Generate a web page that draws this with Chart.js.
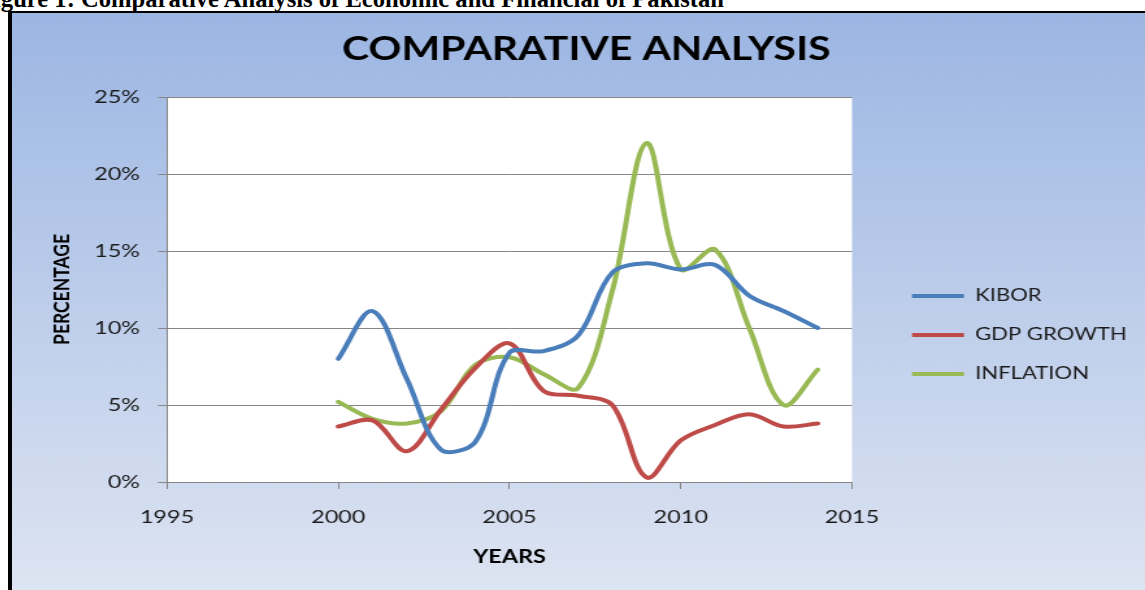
<!DOCTYPE html>
<html>
<head>
<meta charset="utf-8">
<title>Comparative Analysis</title>
<script src="https://cdn.jsdelivr.net/npm/chart.js@4.4.1/dist/chart.umd.min.js"></script>
<style>
    body { margin: 0; width: 1145px; height: 590px; overflow: hidden; background: #fff; position: relative; }
    #caption { position: absolute; left: -21px; top: -13px; z-index: 2; font: bold 24.6px/24.6px "Liberation Serif", "Times New Roman", serif; white-space: nowrap; color: #000; }
    #frame { position: absolute; left: 8px; top: 11px; width: 1133px; height: 577px; border-left: 4px solid #000; border-top: 2px solid #000; }
    #chart { position: absolute; left: 0; top: 0; }
</style>
</head>
<body>
<div id="caption">Figure 1: Comparative Analysis of Economic and Financial of Pakistan</div>
<div id="frame"><canvas id="chart"></canvas></div>
<script>
// Chart data (percent)
const years = [2000, 2001, 2002, 2003, 2004, 2005, 2006, 2007, 2008, 2009, 2010, 2011, 2012, 2013, 2014];
const kibor = [8.0, 11.1, 6.7, 2.1, 2.6, 8.4, 8.5, 9.5, 13.6, 14.2, 13.8, 14.1, 12.1, 11.1, 10.0];
const gdpGrowth = [3.6, 4.0, 2.0, 4.7, 7.4, 9.0, 5.9, 5.6, 5.0, 0.3, 2.7, 3.7, 4.4, 3.6, 3.8];
const inflation = [5.2, 4.1, 3.8, 4.6, 7.6, 8.1, 7.0, 6.1, 12.4, 22.0, 13.8, 15.1, 10.0, 5.0, 7.3];
const seriesNames = ['KIBOR', 'GDP GROWTH', 'INFLATION'];
const xTicks = [1995, 2000, 2005, 2010, 2015];
const yTicks = [0, 5, 10, 15, 20, 25];

// The original picture is stretched sideways, so draw narrow and stretch with css
const BOX_W = 1133, BOX_H = 577, OX = 12, OY = 13;
const CW = Math.round(BOX_W / 1.3);
const SX = BOX_W / CW;
const cx = realX => (realX - OX) / SX;
const cy = realY => realY - OY;

const PLOT_LEFT = cx(167), PLOT_RIGHT = cx(852);
const PLOT_TOP = cy(97), PLOT_BOTTOM = cy(482);
const PAD_LEFT = 12;
const LEGEND_PAD = 22;
const LEGEND_FONT = 17;

const canvas = document.getElementById('chart');
canvas.width = CW;
canvas.height = BOX_H;
canvas.style.width = BOX_W + 'px';
canvas.style.height = BOX_H + 'px';

Chart.defaults.font.family = 'Lato, "Open Sans", sans-serif';

const colors = ['#4a7ebb', '#be4b48', '#98b954'];

function toPoints(values) {
    return years.map((yr, i) => ({ x: yr, y: values[i] }));
}

// background gradient + white plot area
const backgroundPlugin = {
    id: 'background',
    beforeDraw(chart) {
        const { ctx, chartArea, width, height } = chart;
        const grad = ctx.createLinearGradient(0, 0, 0, height);
        grad.addColorStop(0, '#9cb6e3');
        grad.addColorStop(1, '#dde4f2');
        ctx.save();
        ctx.fillStyle = grad;
        ctx.fillRect(0, 0, width, height);
        ctx.fillStyle = '#ffffff';
        ctx.fillRect(chartArea.left, chartArea.top, chartArea.right - chartArea.left, chartArea.bottom - chartArea.top);
        ctx.restore();
    }
};

// keep the legend at a fixed width and move it next to the lines
const legendPlugin = {
    id: 'legendPlace',
    beforeLayout(chart) {
        const lg = chart.legend;
        if (lg && !lg._fixed) {
            const fit = lg.fit.bind(lg);
            lg.fit = function () {
                fit();
                this.width = CW - PLOT_RIGHT;
            };
            lg._fixed = true;
        }
    },
    afterLayout(chart) {
        const lg = chart.legend;
        lg.left = cx(912) - LEGEND_PAD;
        lg.right = CW;
        lg.top = cy(296) - LEGEND_FONT / 2 - LEGEND_PAD;
        lg.bottom = BOX_H;
    }
};

new Chart(canvas, {
    type: 'line',
    data: {
        datasets: [kibor, gdpGrowth, inflation].map((values, i) => ({
            label: seriesNames[i],
            data: toPoints(values),
            borderColor: colors[i],
            backgroundColor: colors[i],
            borderWidth: 4,
            borderCapStyle: 'round',
            borderJoinStyle: 'round',
            pointRadius: 0,
            tension: 0.35,
            fill: false
        }))
    },
    options: {
        responsive: false,
        animation: false,
        layout: { padding: { left: PAD_LEFT, right: 0, top: 0, bottom: 0 } },
        plugins: {
            title: {
                display: true,
                text: 'COMPARATIVE ANALYSIS',
                color: '#000',
                font: { size: 31.5, weight: 'bold' },
                padding: { top: 18, bottom: 28.2 }
            },
            legend: {
                position: 'right',
                align: 'start',
                labels: {
                    usePointStyle: true,
                    pointStyle: 'line',
                    pointStyleWidth: 40,
                    color: '#1a1a1a',
                    font: { size: LEGEND_FONT },
                    padding: LEGEND_PAD
                }
            },
            tooltip: { enabled: false }
        },
        scales: {
            x: {
                type: 'linear',
                min: xTicks[0],
                max: xTicks[xTicks.length - 1],
                afterFit(scale) { scale.height = BOX_H - PLOT_BOTTOM; },
                afterBuildTicks(scale) { scale.ticks = xTicks.map(v => ({ value: v })); },
                ticks: {
                    callback: v => String(v),
                    color: '#1a1a1a',
                    font: { size: 18 },
                    padding: 17.7,
                    maxRotation: 0,
                    autoSkip: false
                },
                grid: { drawOnChartArea: false, drawTicks: true, tickLength: 7, color: '#868686' },
                border: { display: true, color: '#868686' },
                title: {
                    display: true,
                    text: 'YEARS',
                    color: '#000',
                    font: { size: 18, weight: 'bold' },
                    padding: { top: 0, bottom: 21.7 }
                }
            },
            y: {
                min: yTicks[0],
                max: yTicks[yTicks.length - 1],
                afterFit(scale) { scale.width = PLOT_LEFT - PAD_LEFT; },
                afterBuildTicks(scale) { scale.ticks = yTicks.map(v => ({ value: v })); },
                ticks: {
                    callback: v => v + '%',
                    color: '#1a1a1a',
                    font: { size: 18 },
                    padding: 13.9
                },
                grid: { color: '#868686', tickLength: 6.9 },
                border: { display: true, color: '#868686' },
                title: {
                    display: true,
                    text: 'PERCENTAGE',
                    color: '#000',
                    font: { size: 17.5, weight: 'bold' },
                    padding: { top: 16.3, bottom: 0 }
                }
            }
        }
    },
    plugins: [backgroundPlugin, legendPlugin]
});
</script>
</body>
</html>
